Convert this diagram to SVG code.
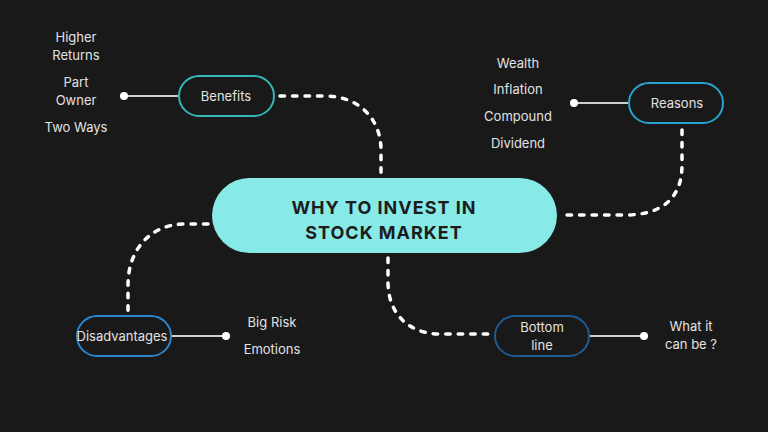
<svg xmlns="http://www.w3.org/2000/svg" width="768" height="432" viewBox="0 0 768 432">
<style>
.lbl{font-family:Inter,"Open Sans","Liberation Sans",sans-serif;font-size:13px;fill:#e2e2e2;text-anchor:middle}
.pill{fill:none;stroke-width:2}
.dash{fill:none;stroke:#ffffff;stroke-width:3.5;stroke-linecap:round;stroke-dasharray:4.5 8}
.solid{stroke:#cfcfcf;stroke-width:2}
.dot{fill:#ffffff}
.title{font-family:Inter,"Open Sans","Liberation Sans",sans-serif;font-size:18px;font-weight:700;fill:#1c1c1c;text-anchor:middle;letter-spacing:1px}
</style>
<rect width="768" height="432" fill="#191919"/>
<g id="connectors">
<path class="dash" d="M280,96 H325 C360,96 381,120 381,150 V174"/>
<path class="dash" d="M682,130 V165 C682,200 660,215 625,215 H562"/>
<path class="dash" d="M208,224 H185 C150,224 128,250 128,285 V311"/>
<path class="dash" d="M388,258 V282 C388,315 410,334 440,334 H489"/>
<line class="solid" x1="124" y1="96" x2="178" y2="96"/>
<circle class="dot" cx="124" cy="96" r="4"/>
<line class="solid" x1="574" y1="103" x2="628" y2="103"/>
<circle class="dot" cx="574" cy="103" r="4"/>
<line class="solid" x1="171" y1="336" x2="226" y2="336"/>
<circle class="dot" cx="226" cy="336" r="4"/>
<line class="solid" x1="589" y1="336" x2="644" y2="336"/>
<circle class="dot" cx="644" cy="336" r="4"/>
</g>
<g id="central">
<rect x="212" y="178" width="345" height="75" rx="37.5" fill="#87eae7"/>
<text class="title" x="384" y="214">WHY TO INVEST IN</text>
<text class="title" x="384" y="239">STOCK MARKET</text>
</g>
<g id="benefits">
<rect class="pill" x="179" y="76" width="95" height="40" rx="20" stroke="#35b6b8"/>
<text class="lbl" x="226" y="101">Benefits</text>
</g>
<g id="benefits-items">
<text class="lbl" x="76" y="42">Higher</text>
<text class="lbl" x="76" y="60">Returns</text>
<text class="lbl" x="76" y="87">Part</text>
<text class="lbl" x="76" y="105">Owner</text>
<text class="lbl" x="76" y="132">Two Ways</text>
</g>
<g id="reasons">
<rect class="pill" x="629" y="83" width="94" height="40" rx="20" stroke="#2aa2cf"/>
<text class="lbl" x="677" y="108">Reasons</text>
</g>
<g id="reasons-items">
<text class="lbl" x="518" y="68">Wealth</text>
<text class="lbl" x="518" y="94">Inflation</text>
<text class="lbl" x="518" y="121">Compound</text>
<text class="lbl" x="518" y="148">Dividend</text>
</g>
<g id="disadvantages">
<rect class="pill" x="77" y="316" width="94" height="40" rx="20" stroke="#2b86cc"/>
<text class="lbl" x="122" y="341">Disadvantages</text>
</g>
<g id="disadvantages-items">
<text class="lbl" x="272" y="327">Big Risk</text>
<text class="lbl" x="272" y="354">Emotions</text>
</g>
<g id="bottomline">
<rect class="pill" x="495" y="316" width="94" height="40" rx="20" stroke="#1f5b94"/>
<text class="lbl" x="542" y="332">Bottom</text>
<text class="lbl" x="542" y="350">line</text>
</g>
<g id="bottomline-items">
<text class="lbl" x="691" y="331">What it</text>
<text class="lbl" x="691" y="349">can be ?</text>
</g>
</svg>
